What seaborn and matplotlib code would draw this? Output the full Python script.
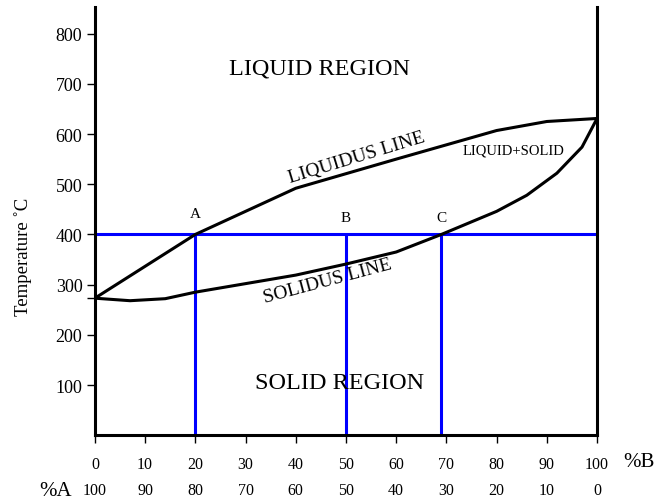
import pandas as pd
import matplotlib
matplotlib.use("Agg")
import matplotlib.pyplot as plt
import seaborn as sns

# ---- data ----
liquidus_x = [0, 20, 40, 60, 80, 90, 100]
liquidus_t = [273, 400, 492, 550, 607, 625, 631]

solidus_x = [0, 7, 14, 20, 40, 50, 60, 69, 80, 86, 92, 97, 100]
solidus_t = [273, 268, 272, 285, 319, 341, 365, 400, 446, 478, 522, 574, 631]

temp_level = 400
comp_points = [20, 50, 69]
comp_names = ["A", "B", "C"]
name_temps = [442, 434, 434]

pct_b_ticks = [0, 10, 20, 30, 40, 50, 60, 70, 80, 90, 100]
pct_a_labels = ["100", "90", "80", "70", "60", "50", "40", "30", "20", "10", "0"]
temp_ticks = [100, 200, 300, 400, 500, 600, 700, 800]

liquidus = pd.DataFrame({"comp": liquidus_x, "temp": liquidus_t})
solidus = pd.DataFrame({"comp": solidus_x, "temp": solidus_t})

sns.set_style("ticks")
plt.rcParams["font.family"] = ["Liberation Serif", "DejaVu Serif"]
# plain black text, like the original
for key in ["text.color", "axes.labelcolor", "xtick.color", "ytick.color"]:
    plt.rcParams[key] = "black"

fig = plt.figure(figsize=(6.59, 5.02), dpi=100)
ax = fig.add_axes([0.144, 0.131, 0.762, 0.853])

# tie line at 400 C and the three composition lines
ax.hlines(temp_level, 0, 100, color="blue", lw=2.2, zorder=2)
ax.vlines(comp_points, 0, temp_level, color="blue", lw=2.2, zorder=2)

sns.lineplot(data=liquidus, x="comp", y="temp", sort=False, estimator=None,
             color="black", lw=2.2, ax=ax, zorder=3)
sns.lineplot(data=solidus, x="comp", y="temp", sort=False, estimator=None,
             color="black", lw=2.2, ax=ax, zorder=3)

ax.set_xlim(0, 100)
ax.set_ylim(0, 853)

# spines: left, right, bottom only
for side in ["left", "right", "bottom"]:
    ax.spines[side].set_linewidth(2.2)
    ax.spines[side].set_color("black")
ax.spines["top"].set_visible(False)

ax.set_yticks(temp_ticks)
ax.set_yticks([273], minor=True)
ax.set_xticks(pct_b_ticks)
ax.tick_params(axis="y", which="both", length=6, width=1, labelsize=13, pad=3)
ax.tick_params(axis="x", length=6, width=1, labelsize=11.5, pad=9)

# second row: %A under the %B labels
for xv, lab in zip(pct_b_ticks, pct_a_labels):
    ax.text(xv, -0.128, lab, transform=ax.get_xaxis_transform(),
            ha="center", va="center", fontsize=11.5, clip_on=False)
ax.text(108.4, -0.0607, "%B", transform=ax.get_xaxis_transform(),
        ha="center", va="center", fontsize=15, clip_on=False)
ax.text(-7.8, -0.128, "%A", transform=ax.get_xaxis_transform(),
        ha="center", va="center", fontsize=15, clip_on=False)

ax.set_xlabel("")
ax.set_ylabel("Temperature ˚C", fontsize=13.5)
ax.yaxis.set_label_coords(-0.126, 0.418)

# region and line names
ax.text(44.8, 731, "LIQUID REGION", ha="center", va="center", fontsize=17.5)
ax.text(48.8, 106, "SOLID REGION", ha="center", va="center", fontsize=17.5)
ax.text(52.2, 554, "LIQUIDUS LINE", ha="center", va="center", fontsize=14,
        rotation=17, rotation_mode="anchor")
ax.text(46.4, 309, "SOLIDUS LINE", ha="center", va="center", fontsize=14,
        rotation=15, rotation_mode="anchor")
ax.text(83.3, 568, "LIQUID+SOLID", ha="center", va="center", fontsize=10.5)

for xv, name, tv in zip(comp_points, comp_names, name_temps):
    ax.text(xv, tv, name, ha="center", va="center", fontsize=11)

fig.savefig("out.png", dpi=100)
